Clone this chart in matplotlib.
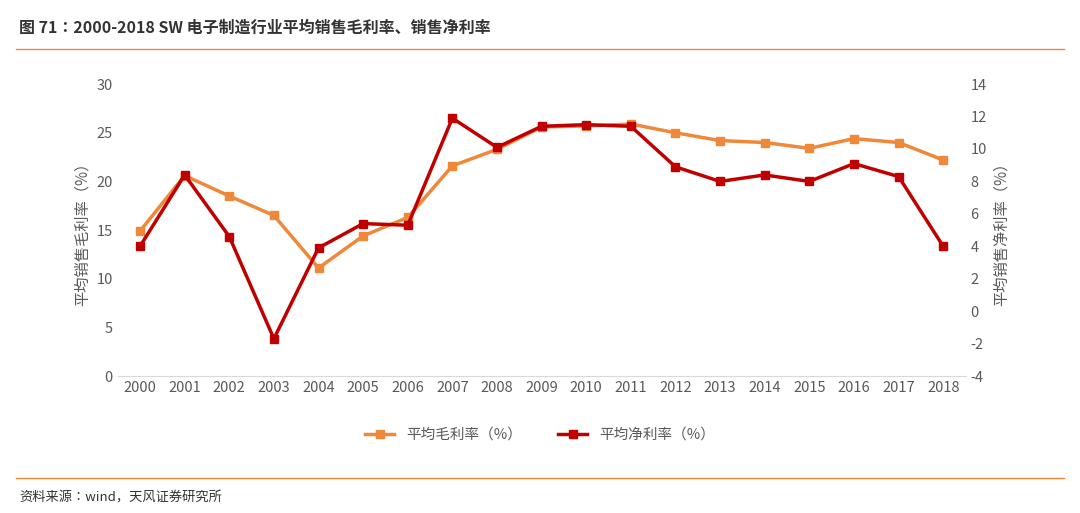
import matplotlib
matplotlib.use("Agg")
import matplotlib.pyplot as plt
from matplotlib.lines import Line2D

plt.rcParams["font.family"] = "sans-serif"
plt.rcParams["font.sans-serif"] = ["Noto Sans CJK JP", "Noto Sans CJK SC", "DejaVu Sans"]
plt.rcParams["axes.unicode_minus"] = False

years = [str(y) for y in range(2000, 2019)]
gross = [14.9, 20.6, 18.5, 16.5, 11.1, 14.4, 16.3, 21.6, 23.3, 25.6, 25.7, 25.9, 25.0, 24.2, 24.0, 23.4, 24.4, 24.0, 22.2]
net = [4.0, 8.4, 4.6, -1.7, 3.9, 5.4, 5.3, 11.9, 10.1, 11.4, 11.5, 11.4, 8.9, 8.0, 8.4, 8.0, 9.1, 8.3, 4.0]

c_or = "#F0883A"
c_red = "#C00000"
grey = "#595959"

fig = plt.figure(figsize=(10.8, 5.13), dpi=100)
fig.text(0.018, 0.935, "图 71：2000-2018 SW 电子制造行业平均销售毛利率、销售净利率",
         fontsize=11.5, fontweight="bold", color="#333333")
fig.add_artist(Line2D([0.015, 0.985], [0.905, 0.905], color=c_or, lw=1))
fig.add_artist(Line2D([0.015, 0.985], [0.068, 0.068], color=c_or, lw=1))
fig.text(0.018, 0.022, "资料来源：wind，天风证券研究所", fontsize=9.5, color="#333333")

ax = fig.add_axes([0.109, 0.267, 0.785, 0.569])
ax2 = ax.twinx()
x = range(len(years))
ax.plot(x, gross, color=c_or, lw=2.5, marker="s", ms=6, zorder=2)
ax2.plot(x, net, color=c_red, lw=2.5, marker="s", ms=6, zorder=3)

ax.set_ylim(0, 30)
ax.set_yticks(range(0, 31, 5))
ax2.set_ylim(-4, 14)
ax2.set_yticks(range(-4, 15, 2))
ax.set_xlim(-0.5, len(years) - 0.5)
ax.set_xticks(list(x))
ax.set_xticklabels(years)
for a in (ax, ax2):
    a.tick_params(length=0, labelsize=10.5, colors=grey)
    for s in a.spines.values():
        s.set_visible(False)
ax.spines["bottom"].set_visible(True)
ax.spines["bottom"].set_color("#D9D9D9")
ax.set_ylabel("平均销售毛利率（%）", fontsize=11, color=grey)
ax2.set_ylabel("平均销售净利率（%）", fontsize=11, color=grey)

handles = [Line2D([], [], color=c_or, lw=2.5, marker="s", ms=6),
           Line2D([], [], color=c_red, lw=2.5, marker="s", ms=6)]
fig.legend(handles, ["平均毛利率（%）", "平均净利率（%）"], loc="center",
           bbox_to_anchor=(0.5, 0.152), ncol=2, frameon=False, fontsize=10.5,
           labelcolor=grey, columnspacing=2.5)

fig.savefig("out.png", dpi=100)
